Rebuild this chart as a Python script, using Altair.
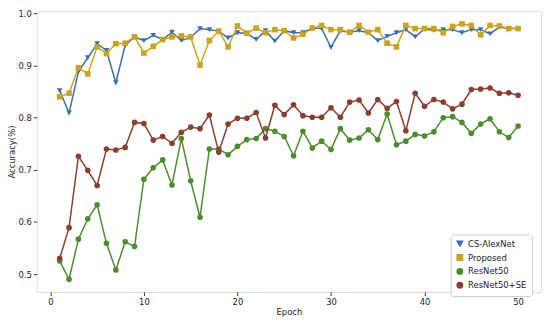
import altair as alt
import pandas as pd

epochs = list(range(1, 51))

cs_alexnet = [0.852, 0.809, 0.888, 0.915, 0.942, 0.929, 0.867, 0.939, 0.955, 0.948,
              0.958, 0.950, 0.964, 0.948, 0.954, 0.971, 0.969, 0.966, 0.953, 0.963,
              0.962, 0.950, 0.967, 0.947, 0.967, 0.963, 0.963, 0.972, 0.971, 0.935,
              0.967, 0.964, 0.967, 0.963, 0.948, 0.956, 0.963, 0.969, 0.955, 0.971,
              0.967, 0.969, 0.969, 0.963, 0.969, 0.969, 0.961, 0.974, 0.971, 0.971]

proposed = [0.840, 0.847, 0.896, 0.884, 0.936, 0.923, 0.942, 0.943, 0.955, 0.924,
            0.937, 0.950, 0.955, 0.957, 0.955, 0.901, 0.948, 0.966, 0.936, 0.976,
            0.962, 0.972, 0.963, 0.969, 0.967, 0.953, 0.960, 0.972, 0.977, 0.969,
            0.969, 0.964, 0.977, 0.964, 0.969, 0.943, 0.936, 0.977, 0.971, 0.971,
            0.971, 0.963, 0.975, 0.980, 0.977, 0.959, 0.977, 0.976, 0.971, 0.971]

resnet50 = [0.525, 0.490, 0.567, 0.606, 0.633, 0.559, 0.508, 0.562, 0.553, 0.682,
            0.704, 0.719, 0.671, 0.760, 0.679, 0.609, 0.740, 0.740, 0.729, 0.745,
            0.758, 0.760, 0.779, 0.774, 0.764, 0.727, 0.774, 0.742, 0.755, 0.739,
            0.779, 0.757, 0.761, 0.777, 0.758, 0.807, 0.748, 0.755, 0.768, 0.765,
            0.773, 0.800, 0.802, 0.791, 0.770, 0.788, 0.798, 0.773, 0.762, 0.784]

resnet50_se = [0.530, 0.589, 0.726, 0.699, 0.670, 0.740, 0.738, 0.743, 0.791, 0.789,
               0.757, 0.764, 0.751, 0.772, 0.782, 0.779, 0.805, 0.734, 0.788, 0.799,
               0.799, 0.810, 0.761, 0.824, 0.806, 0.825, 0.804, 0.801, 0.801, 0.819,
               0.801, 0.830, 0.834, 0.809, 0.835, 0.818, 0.831, 0.775, 0.847, 0.822,
               0.835, 0.830, 0.817, 0.826, 0.854, 0.855, 0.857, 0.847, 0.848, 0.843]

series_names = ["CS-AlexNet", "Proposed", "ResNet50", "ResNet50+SE"]
series_values = [cs_alexnet, proposed, resnet50, resnet50_se]
series_colors = ["#3f6db4", "#c9a41c", "#4c8c2c", "#8a3e2c"]
series_shapes = ["triangle-down", "square", "circle", "circle"]

x_ticks = [0, 10, 20, 30, 40, 50]
y_ticks = [0.5, 0.6, 0.7, 0.8, 0.9, 1.0]

rows = []
for name, vals in zip(series_names, series_values):
    for e, v in zip(epochs, vals):
        rows.append({"Series": name, "Epoch": e, "Accuracy": v})
df = pd.DataFrame(rows)

FONT = "DejaVu Sans"

x_enc = alt.X("Epoch:Q",
              scale=alt.Scale(domain=[-1.45, 52.45], nice=False, zero=False),
              axis=alt.Axis(values=x_ticks, title="Epoch", format="d",
                            grid=False, domain=False, tickSize=3.5,
                            tickColor="#333", labelPadding=2,
                            labelFontSize=8.5, titleFontSize=8.5,
                            labelColor="#222", titleColor="#222",
                            titleFontWeight="normal", titlePadding=2,
                            labelFont=FONT, titleFont=FONT))
y_enc = alt.Y("Accuracy:Q",
              scale=alt.Scale(domain=[0.4655, 1.0045], nice=False, zero=False),
              axis=alt.Axis(values=y_ticks, title="Accuracy(%)", format=".1f",
                            grid=False, domain=False, tickSize=3.5,
                            tickColor="#333", labelPadding=2,
                            labelFontSize=8.5, titleFontSize=8.5,
                            labelColor="#222", titleColor="#222",
                            titleFontWeight="normal", titlePadding=1,
                            labelFont=FONT, titleFont=FONT))

color_enc = alt.Color("Series:N",
                      scale=alt.Scale(domain=series_names, range=series_colors),
                      legend=alt.Legend(title=None, orient="none",
                                        legendX=417, legendY=225,
                                        fillColor="white", strokeColor="#cccccc",
                                        cornerRadius=3, padding=5,
                                        rowPadding=2, labelFontSize=8.5,
                                        labelFont=FONT, labelColor="#222",
                                        symbolSize=30, symbolStrokeWidth=1.5))
shape_enc = alt.Shape("Series:N",
                      scale=alt.Scale(domain=series_names, range=series_shapes),
                      legend=alt.Legend(title=None, orient="none",
                                        legendX=417, legendY=225))

layers = []
for name in series_names:
    base = alt.Chart(df).transform_filter(alt.datum.Series == name)
    layers.append(base.mark_line(strokeWidth=1.5).encode(x=x_enc, y=y_enc, color=color_enc))
    layers.append(base.mark_point(filled=True, size=32, opacity=1).encode(
        x=x_enc, y=y_enc, color=color_enc, shape=shape_enc))

chart = alt.layer(*layers).properties(
    width=508, height=283,
    autosize=alt.AutoSizeParams(type="none"),
    padding={"left": 29, "top": 2, "right": 1, "bottom": 25},
).configure_view(stroke="#555555", strokeWidth=1).configure(background="white")

chart.save("out.html", embed_options={"renderer": "svg", "actions": False})
